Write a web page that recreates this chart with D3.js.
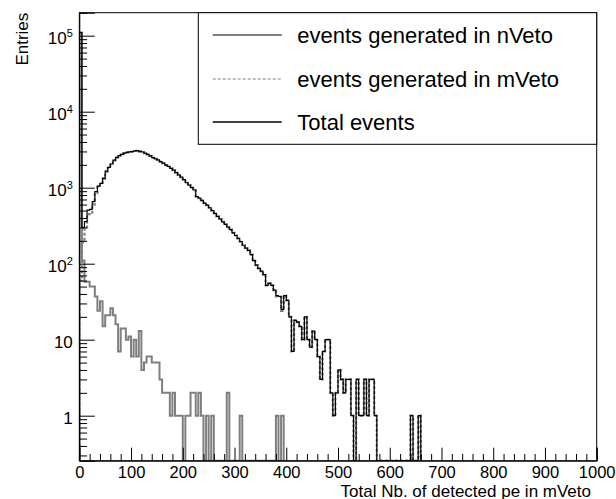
<!DOCTYPE html>
<html><head><meta charset="utf-8">
<script src="https://cdn.jsdelivr.net/npm/d3@7"></script>
<style>
body{margin:0;background:#fff;}
svg{display:block;font-family:"Liberation Sans",Arial,Helvetica,sans-serif;}
</style></head><body>
<svg id="c" width="616" height="499"></svg>
<script>
// ---- data (bins of width 5 starting at 0) ----
const binWidth = 5;
const nVeto = [
  110000, 110, 58, 58, 50, 50, 37, 24, 32, 15,
  21, 21, 26, 21, 16, 7, 14, 14, 10, 11,
  6, 10, 6, 13, 4, 5, 6, 6, 5, 5,
  5, 3, 2, 2, 2, 1, 2, 1, 1, 1,
  0, 1, 1, 2, 2, 1, 2, 1, 0, 1,
  0, 1, 0, 0, 0, 0, 0, 2, 0, 0,
  0, 0, 1, 0, 0, 0, 0, 0, 0, 0,
  0, 0, 0, 0, 0, 0, 1, 0, 1
];
const mVeto = [
  60, 190, 300, 450, 470, 604, 849, 1026, 1111, 1315,
  1629, 1829, 2024, 2279, 2484, 2643, 2736, 2836, 2910, 2949,
  2974, 3040, 3064, 2987, 2946, 2845, 2744, 2614, 2475, 2395,
  2315, 2197, 2098, 1978, 1898, 1799, 1699, 1578, 1478, 1379,
  1280, 1160, 1080, 1000, 930, 760, 730, 680, 625, 590,
  545, 500, 460, 420, 385, 355, 330, 300, 280, 255,
  235, 215, 195, 175, 160, 150, 132, 110, 96, 87,
  80, 72, 52, 55, 52, 45, 37, 37, 24, 38,
  33, 20, 7, 18, 17, 15, 10, 20, 10, 8,
  13, 10, 6, 3, 7, 10, 10, 2, 1, 2,
  4, 3, 2, 3, 3, 1, 0, 3, 1, 1,
  3, 1, 3, 3, 1, 0, 0, 0, 0, 0,
  0, 0, 0, 0, 0, 0, 0, 0, 1, 0,
  0, 1
];
const xTickValues = [0,100,200,300,400,500,600,700,800,900,1000];
const yTickValues = [1,10,100,1000,10000,100000];
const yTickBase = ["1","10","10","10","10","10"];
const yTickExp = ["","","2","3","4","5"];
const legendLabels = ["events generated in nVeto","events generated in mVeto","Total events"];
const xTitle = "Total Nb. of detected pe in mVeto";
const yTitle = "Entries";

// ---- derived: total = nVeto + mVeto ----
const nBins = Math.max(nVeto.length, mVeto.length);
const total = d3.range(nBins).map(i => (nVeto[i]||0) + (mVeto[i]||0));

// ---- layout ----
const L = 79.3, R = 596.7, T = 12.7, B = 460.7;
const svg = d3.select("#c");
const x = d3.scaleLinear().domain([0,1000]).range([L,R]);
const y = d3.scaleLog().domain([0.2558, 200730]).range([B,T]);

svg.append("defs").append("clipPath").attr("id","clip")
  .append("rect").attr("x",L).attr("y",T).attr("width",R-L).attr("height",B-T);

function stepPoints(vals){
  const pts = [[x(0), B]];
  vals.forEach((v,i)=>{
    const yy = v>0 ? y(v) : B;
    pts.push([x(i*binWidth), yy]);
    pts.push([x((i+1)*binWidth), yy]);
  });
  pts.push([x(vals.length*binWidth), B]);
  return pts;
}
const line = d3.line();
const g = svg.append("g").attr("clip-path","url(#clip)");
g.append("path").attr("d", line(stepPoints(nVeto)))
  .attr("fill","none").attr("stroke","#7f7f7f").attr("stroke-width",2);
g.append("path").attr("d", line(stepPoints(mVeto)))
  .attr("fill","none").attr("stroke","#7f7f7f").attr("stroke-width",2.2)
  .attr("stroke-dasharray","3,2");
g.append("path").attr("d", line(stepPoints(total)))
  .attr("fill","none").attr("stroke","#000").attr("stroke-width",1.2);

// ---- frame ----
svg.append("rect").attr("x",L).attr("y",T).attr("width",R-L).attr("height",B-T)
  .attr("fill","none").attr("stroke","#000").attr("stroke-width",1);

// ---- x axis ----
const xMinor = d3.range(0,1001,20).filter(v=>v%100!==0);
const xAxis = svg.append("g").attr("transform",`translate(0,${B})`)
  .call(d3.axisBottom(x).tickValues(xTickValues).tickSize(-13).tickPadding(6).tickFormat(d3.format("d")));
xAxis.select(".domain").attr("stroke","#000");
xAxis.selectAll("text").attr("font-size",16.5).attr("fill","#000").attr("font-family","Liberation Sans, Arial, sans-serif");
const xAxisMinor = svg.append("g").attr("transform",`translate(0,${B})`)
  .call(d3.axisBottom(x).tickValues(xMinor).tickSize(-6.7).tickFormat(""));
xAxisMinor.select(".domain").remove();

// ---- y axis ----
const yMinor = [];
for (let k=-1;k<=5;k++) for (let m=2;m<=9;m++){ const v=m*Math.pow(10,k); if(v>=0.2558 && v<=200730) yMinor.push(v); }
const yAxis = svg.append("g").attr("transform",`translate(${L},0)`)
  .call(d3.axisLeft(y).tickValues(yTickValues).tickSize(-15.5).tickPadding(7).tickFormat(""));
yAxis.select(".domain").attr("stroke","#000");
yAxis.selectAll(".tick").each(function(d,i){
  const t = d3.select(this).append("text")
    .attr("x", -6.5).attr("dy","0.43em").attr("text-anchor","end")
    .attr("font-size",17).attr("fill","#000")
    .attr("font-family","Liberation Sans, Arial, sans-serif");
  t.append("tspan").text(yTickBase[i]);
  if (yTickExp[i]) t.append("tspan").attr("font-size",11).attr("dy","-0.55em").text(yTickExp[i]);
});
const yAxisMinor = svg.append("g").attr("transform",`translate(${L},0)`)
  .call(d3.axisLeft(y).tickValues(yMinor).tickSize(-7.8).tickFormat(""));
yAxisMinor.select(".domain").remove();

// ---- titles ----
svg.append("text").attr("x",591).attr("y",496.5).attr("text-anchor","end")
  .attr("font-size",17).text(xTitle);
svg.append("text").attr("transform","translate(27.5,12.7) rotate(-90)")
  .attr("text-anchor","end").attr("font-size",17).text(yTitle);

// ---- legend ----
const lg = svg.append("g");
lg.append("rect").attr("x",198.3).attr("y",T).attr("width",R-198.3).attr("height",144.3-T)
  .attr("fill","#fff").attr("stroke","#000").attr("stroke-width",1);
const legendStyles = [
  {stroke:"#7f7f7f", w:2, dash:null},
  {stroke:"#7f7f7f", w:1.2, dash:"3,2"},
  {stroke:"#000", w:1.6, dash:null}
];
const legendY = [35, 79, 122];
legendLabels.forEach((lab,i)=>{
  lg.append("line").attr("x1",212.7).attr("x2",281.7).attr("y1",legendY[i]).attr("y2",legendY[i])
    .attr("stroke",legendStyles[i].stroke).attr("stroke-width",legendStyles[i].w)
    .attr("stroke-dasharray",legendStyles[i].dash);
  lg.append("text").attr("x",297.3).attr("y",legendY[i]).attr("dy","0.36em")
    .attr("font-size",22).text(lab);
});
</script>
</body></html>
